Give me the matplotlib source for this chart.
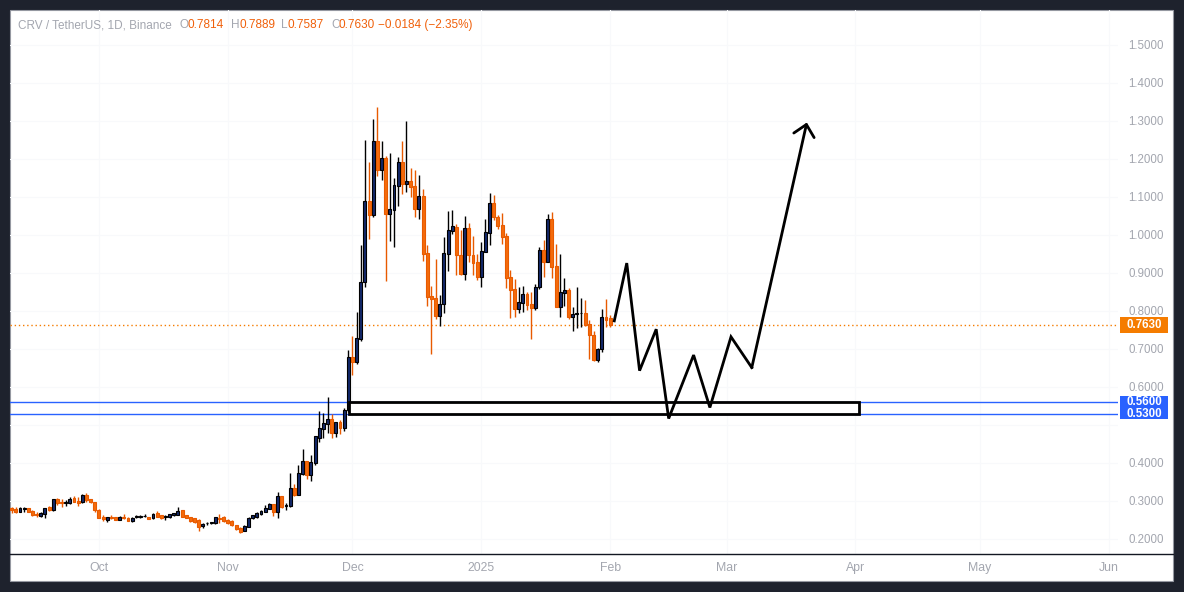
import numpy as np
import pandas as pd
import matplotlib
matplotlib.use("Agg")
import matplotlib.pyplot as plt
import matplotlib.dates as mdates
import matplotlib.transforms as mtransforms
from matplotlib.patches import Rectangle

plt.rcParams["font.family"] = ["Liberation Sans", "DejaVu Sans"]

# ---- data (CRV/USDT daily) ------------------------------------------------
start_date = "2024-09-10"
opens = [0.281, 0.280, 0.272, 0.2795, 0.281, 0.274, 0.266, 0.260, 0.266, 0.283,
         0.275, 0.305, 0.297, 0.295, 0.294, 0.307, 0.301, 0.297, 0.316, 0.305,
         0.297, 0.276, 0.257, 0.250, 0.2575, 0.257, 0.251, 0.259, 0.256, 0.248,
         0.258, 0.259, 0.260, 0.258, 0.254, 0.268, 0.262, 0.258, 0.257, 0.262,
         0.264, 0.275, 0.262, 0.257, 0.254, 0.250, 0.233, 0.241, 0.242, 0.241,
         0.256, 0.259, 0.250, 0.248, 0.237, 0.230, 0.222, 0.2325, 0.254, 0.258,
         0.266, 0.272, 0.280, 0.292, 0.272, 0.313, 0.287, 0.287, 0.334, 0.316,
         0.371, 0.405, 0.368, 0.401, 0.467, 0.490, 0.503, 0.516, 0.480, 0.508,
         0.493, 0.540, 0.680, 0.667, 0.727, 0.875, 1.090, 1.053, 1.247, 1.171,
         1.203, 1.056, 1.067, 1.130, 1.192, 1.135, 1.142, 1.129, 1.068, 1.103,
         0.953, 0.840, 0.834, 0.787, 0.818, 0.951, 1.011, 1.021, 0.946, 0.897,
         1.018, 0.946, 0.929, 0.890, 0.956, 1.006, 1.084, 1.047, 1.026, 0.997,
         0.889, 0.858, 0.806, 0.822, 0.845, 0.818, 0.809, 0.862, 0.960, 0.930,
         1.042, 0.918, 0.811, 0.848, 0.855, 0.785, 0.793, 0.794, 0.794, 0.765,
         0.738, 0.672, 0.699, 0.783, 0.7814]
highs = [0.285, 0.283, 0.283, 0.285, 0.282, 0.277, 0.270, 0.272, 0.282, 0.287,
         0.306, 0.307, 0.305, 0.303, 0.310, 0.312, 0.310, 0.318, 0.320, 0.306,
         0.298, 0.278, 0.264, 0.257, 0.262, 0.258, 0.260, 0.266, 0.257, 0.257,
         0.263, 0.263, 0.265, 0.259, 0.268, 0.273, 0.264, 0.263, 0.266, 0.269,
         0.284, 0.276, 0.264, 0.258, 0.256, 0.252, 0.241, 0.244, 0.246, 0.259,
         0.266, 0.261, 0.252, 0.250, 0.238, 0.232, 0.236, 0.257, 0.264, 0.270,
         0.277, 0.289, 0.296, 0.293, 0.323, 0.314, 0.295, 0.374, 0.345, 0.396,
         0.437, 0.406, 0.421, 0.472, 0.537, 0.531, 0.574, 0.529, 0.509, 0.513,
         0.545, 0.696, 0.734, 0.797, 0.974, 1.250, 1.193, 1.305, 1.338, 1.247,
         1.208, 1.216, 1.150, 1.205, 1.247, 1.300, 1.176, 1.171, 1.158, 1.121,
         0.974, 0.866, 0.937, 0.842, 0.995, 1.063, 1.066, 1.029, 1.013, 1.050,
         1.031, 0.997, 0.951, 0.981, 1.042, 1.110, 1.106, 1.053, 1.058, 1.005,
         0.908, 0.884, 0.863, 0.866, 0.850, 0.850, 0.871, 0.968, 0.987, 1.055,
         1.060, 0.976, 0.950, 0.887, 0.860, 0.811, 0.862, 0.833, 0.829, 0.775,
         0.746, 0.702, 0.806, 0.832, 0.7889]
lows = [0.269, 0.268, 0.270, 0.272, 0.271, 0.261, 0.259, 0.259, 0.254, 0.274,
        0.274, 0.290, 0.285, 0.287, 0.291, 0.297, 0.287, 0.296, 0.298, 0.296,
        0.272, 0.255, 0.247, 0.246, 0.252, 0.249, 0.250, 0.253, 0.247, 0.245,
        0.254, 0.255, 0.258, 0.252, 0.253, 0.258, 0.252, 0.249, 0.256, 0.261,
        0.263, 0.258, 0.254, 0.245, 0.243, 0.222, 0.230, 0.238, 0.240, 0.240,
        0.241, 0.245, 0.239, 0.235, 0.224, 0.217, 0.220, 0.231, 0.252, 0.256,
        0.264, 0.270, 0.279, 0.261, 0.254, 0.282, 0.275, 0.285, 0.313, 0.315,
        0.368, 0.358, 0.353, 0.394, 0.454, 0.465, 0.480, 0.467, 0.469, 0.475,
        0.485, 0.535, 0.632, 0.660, 0.722, 0.864, 0.990, 1.048, 1.155, 1.145,
        0.879, 0.984, 0.968, 1.076, 1.108, 1.113, 1.101, 1.047, 1.042, 0.932,
        0.812, 0.687, 0.779, 0.760, 0.795, 0.906, 1.003, 0.895, 0.895, 0.882,
        0.929, 0.895, 0.882, 0.863, 0.955, 0.974, 1.039, 1.016, 0.976, 0.861,
        0.782, 0.785, 0.795, 0.796, 0.803, 0.727, 0.803, 0.858, 0.889, 0.928,
        0.888, 0.810, 0.785, 0.813, 0.780, 0.746, 0.756, 0.759, 0.760, 0.673,
        0.669, 0.667, 0.693, 0.759, 0.7587]
closes = [0.275, 0.272, 0.281, 0.280, 0.272, 0.262, 0.264, 0.269, 0.281, 0.275,
          0.305, 0.294, 0.294, 0.296, 0.305, 0.298, 0.294, 0.316, 0.303, 0.297,
          0.275, 0.256, 0.252, 0.257, 0.2565, 0.250, 0.259, 0.255, 0.248, 0.256,
          0.259, 0.2595, 0.261, 0.253, 0.266, 0.259, 0.254, 0.259, 0.265, 0.268,
          0.274, 0.259, 0.256, 0.248, 0.246, 0.2325, 0.240, 0.242, 0.243, 0.258,
          0.253, 0.247, 0.241, 0.237, 0.226, 0.219, 0.234, 0.256, 0.262, 0.268,
          0.274, 0.282, 0.292, 0.271, 0.313, 0.285, 0.289, 0.333, 0.316, 0.374,
          0.405, 0.368, 0.403, 0.471, 0.492, 0.505, 0.516, 0.480, 0.508, 0.493,
          0.539, 0.680, 0.667, 0.729, 0.876, 1.090, 1.053, 1.247, 1.171, 1.203,
          1.056, 1.068, 1.132, 1.192, 1.135, 1.142, 1.127, 1.068, 1.103, 0.951,
          0.838, 0.832, 0.787, 0.818, 0.952, 1.013, 1.024, 0.946, 0.897, 1.018,
          0.946, 0.927, 0.890, 0.958, 1.008, 1.084, 1.046, 1.024, 0.995, 0.888,
          0.855, 0.806, 0.824, 0.845, 0.817, 0.808, 0.863, 0.960, 0.930, 1.042,
          0.917, 0.811, 0.850, 0.856, 0.785, 0.792, 0.794, 0.795, 0.764, 0.738,
          0.672, 0.699, 0.783, 0.776, 0.7630]

# projected zig-zag path drawn on the chart
path_dates = ["2025-02-02 00:00", "2025-02-05 00:00", "2025-02-08 02:00",
              "2025-02-12 02:00", "2025-02-15 02:00", "2025-02-21 02:00",
              "2025-02-25 00:00", "2025-03-02 02:00", "2025-03-07 02:00",
              "2025-03-20 08:00"]
path_prices = [0.774, 0.926, 0.643, 0.752, 0.517, 0.684, 0.546, 0.732, 0.651, 1.296]

# support zone box + horizontal levels
zone_start, zone_end = "2024-11-30 05:00", "2025-04-01 22:00"
zone_low, zone_high = 0.53, 0.56
support_levels = [0.56, 0.53]
last_price = 0.7630

price_ticks = [0.2, 0.3, 0.4, 0.5, 0.6, 0.7, 0.8, 0.9, 1.0, 1.1, 1.2, 1.3, 1.4, 1.5]
price_tick_labels = ["0.2000", "0.3000", "0.4000", "", "0.6000", "0.7000", "0.8000",
                     "0.9000", "1.0000", "1.1000", "1.2000", "1.3000", "1.4000", "1.5000"]
month_ticks = ["2024-10-01", "2024-11-01", "2024-12-01", "2025-01-01", "2025-02-01",
               "2025-03-01", "2025-04-01", "2025-05-01", "2025-06-01"]
month_labels = ["Oct", "Nov", "Dec", "2025", "Feb", "Mar", "Apr", "May", "Jun"]

header_parts = [("CRV / TetherUS, 1D, Binance", "grey", 18),
                ("O", "grey", 180), ("0.7814", "orange", 187.5),
                ("H", "grey", 231), ("0.7889", "orange", 239),
                ("L", "grey", 281), ("0.7587", "orange", 287.5),
                ("C", "grey", 331), ("0.7630", "orange", 338.5),
                ("\u22120.0184 (\u22122.35%)", "orange", 377.5)]

# ---- style ----------------------------------------------------------------
FRAME_BG = "#1e222d"
TEXT_GREY = "#a3a6af"
HEADER_ORANGE = "#f0600a"
BULL_BODY = "#14296b"
BULL_EDGE = "#000000"
BEAR_BODY = "#f46b0c"
BEAR_EDGE = "#e85a00"
LABEL_ORANGE = "#f57c00"
LEVEL_BLUE = "#2962ff"
GRID = "#f8f9fb"

W, H = 1184, 592
fig = plt.figure(figsize=(W / 100, H / 100), dpi=100)
fig.patch.set_facecolor(FRAME_BG)

# white chart panel
fig.add_artist(Rectangle((10 / W, 1 - 581 / H), 1163 / W, 571 / H,
                         transform=fig.transFigure, facecolor="white",
                         edgecolor="#9598a1", linewidth=0.8, zorder=0))

ax = fig.add_axes([10 / W, 1 - 554 / H, 1108 / W, 544 / H])
ax.set_facecolor("none")

oct1 = mdates.date2num(pd.Timestamp("2024-10-01"))
ax.set_xlim(oct1 - 21.4, oct1 + 245.2)
ax.set_ylim(0.1605, 1.592)

# very faint grid
for p in price_ticks:
    ax.axhline(p, color=GRID, lw=0.8, zorder=0)
for m in month_ticks:
    ax.axvline(mdates.date2num(pd.Timestamp(m)), color=GRID, lw=0.8, zorder=0)

# ---- candles --------------------------------------------------------------
dates = pd.date_range(start_date, periods=len(opens), freq="D")
x = mdates.date2num(dates)
o, h, l, c = map(np.asarray, (opens, highs, lows, closes))
up = c >= o
ax.vlines(x[up], l[up], h[up], color="#000000", lw=1.0, zorder=2)
ax.vlines(x[~up], l[~up], h[~up], color=BEAR_EDGE, lw=1.0, zorder=2)
body_low = np.minimum(o, c)
body_h = np.maximum(np.abs(c - o), 0.0018)
ax.bar(x[up], body_h[up], bottom=body_low[up], width=0.7, color=BULL_BODY,
       edgecolor=BULL_EDGE, linewidth=0.8, zorder=3)
ax.bar(x[~up], body_h[~up], bottom=body_low[~up], width=0.7, color=BEAR_BODY,
       edgecolor=BEAR_EDGE, linewidth=0.8, zorder=3)

# ---- levels & zone --------------------------------------------------------
for lvl in support_levels:
    ax.axhline(lvl, color=LEVEL_BLUE, lw=1.0, zorder=1)
ax.axhline(last_price, color=LABEL_ORANGE, lw=1.0, ls=(0, (1, 2)), zorder=1)

zx0 = mdates.date2num(pd.Timestamp(zone_start))
zx1 = mdates.date2num(pd.Timestamp(zone_end))
ax.add_patch(Rectangle((zx0, zone_low), zx1 - zx0, zone_high - zone_low,
                       facecolor="white", edgecolor="black", linewidth=2.0, zorder=4))

# ---- projected path -------------------------------------------------------
px = mdates.date2num(pd.to_datetime(path_dates))
ax.plot(px[:-1], path_prices[:-1], color="black", lw=2.0, zorder=5,
        solid_joinstyle="miter")
ax.annotate("", xy=(px[-1], path_prices[-1]), xytext=(px[-2], path_prices[-2]),
            arrowprops=dict(arrowstyle="->,head_length=0.8,head_width=0.75",
                            color="black", lw=2.0, shrinkA=0, shrinkB=0),
            zorder=5)

# ---- axes / ticks ---------------------------------------------------------
for s in ax.spines.values():
    s.set_visible(False)
ax.yaxis.tick_right()
ax.set_yticks(price_ticks)
ax.set_yticklabels(price_tick_labels)
ax.tick_params(axis="y", length=0, pad=7.5, labelsize=8.3, labelcolor=TEXT_GREY)
ax.set_xticks(mdates.date2num(pd.to_datetime(month_ticks)))
ax.set_xticklabels(month_labels)
ax.tick_params(axis="x", length=0, pad=6, labelsize=8.8, labelcolor=TEXT_GREY)

# bottom separator line of the price pane
fig.add_artist(plt.Line2D([10 / W, 1173 / W], [1 - 554 / H, 1 - 554 / H],
                          transform=fig.transFigure, color="#131722", lw=1.0))

# price labels on the right axis
blend = mtransforms.blended_transform_factory(ax.transAxes, ax.transData)
box_x0 = (1120 - 10) / 1108
box_w = 48 / 1108
for val, color, hpx in [(last_price, LABEL_ORANGE, 16),
                        (0.56, LEVEL_BLUE, 11.8), (0.53, LEVEL_BLUE, 11.8)]:
    hh = hpx / 380
    ax.add_patch(Rectangle((box_x0, val - hh / 2), box_w, hh, transform=blend,
                           facecolor=color, edgecolor="none", clip_on=False, zorder=6))
    ax.text(box_x0 + box_w / 2, val, f"{val:.4f}", transform=blend, ha="center",
            va="center", color="white", fontsize=8.3, fontweight="bold",
            clip_on=False, zorder=7)

# header
for txt, col, xpix in header_parts:
    fig.text(xpix / W, 1 - 25 / H, txt, color=TEXT_GREY if col == "grey" else HEADER_ORANGE,
             fontsize=8.5, ha="left", va="center")

fig.savefig("out.png", dpi=100, facecolor=FRAME_BG)
